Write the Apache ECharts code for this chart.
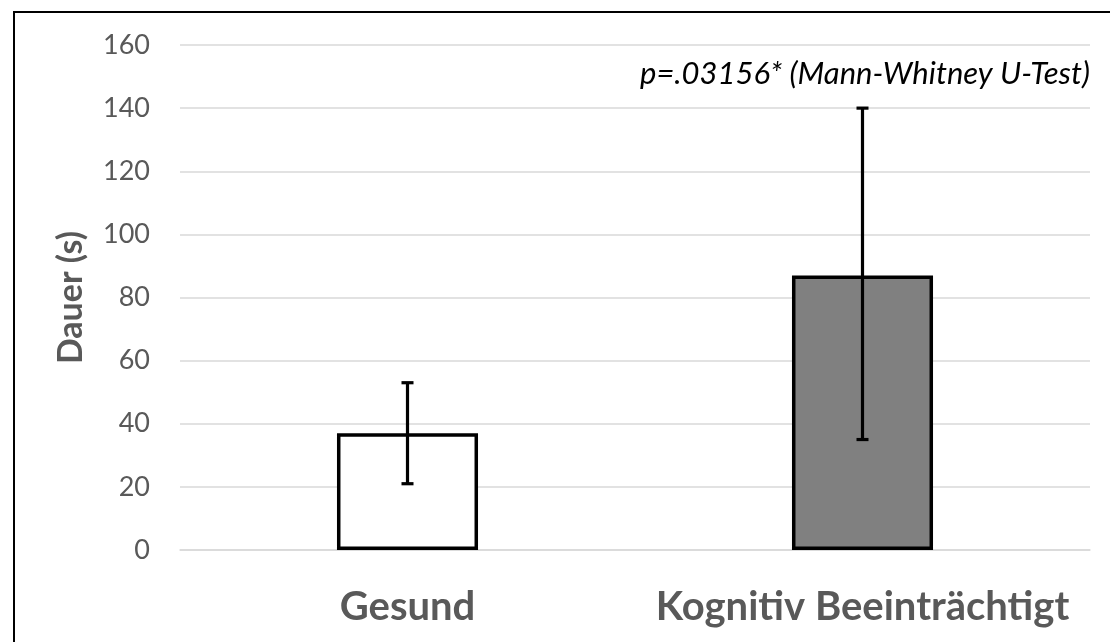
<!DOCTYPE html>
<html>
<head>
<meta charset="utf-8">
<script src="https://cdn.jsdelivr.net/npm/echarts@6/dist/echarts.min.js"></script>
<style>
html,body{margin:0;padding:0;background:#fff;}
#chart{width:1110px;height:642px;}
</style>
</head>
<body>
<div id="chart"></div>
<script>
const categories = ['Gesund', 'Kognitiv Beeinträchtigt'];
const means = [37, 87];
const errLow = [21, 35];
const errHigh = [53, 140];
const barColors = ['#ffffff', '#808080'];
const yTicks = { min: 0, max: 160, interval: 20 };
const annotation = 'p=.03156* (Mann-Whitney U-Test)';
const yName = 'Dauer (s)';

const FONT = 'Lato, "Open Sans", sans-serif';
const chart = echarts.init(document.getElementById('chart'));

const errData = categories.map((c, i) => [i, errLow[i], errHigh[i]]);

chart.setOption({
  animation: false,
  backgroundColor: '#fff',
  grid: { left: 180, right: 20, top: 45, bottom: 92 },
  graphic: [
    { type: 'rect', shape: { x: 14, y: 12, width: 1200, height: 700 }, style: { fill: 'none', stroke: '#000', lineWidth: 2 }, silent: true },
    { type: 'text', right: 20, top: 58, style: { text: annotation, font: 'italic 31px ' + FONT, fill: '#000' } }
  ],
  xAxis: {
    type: 'category',
    data: categories,
    axisLine: { show: true, lineStyle: { color: '#d9d9d9', width: 1.5 } },
    axisTick: { show: false },
    axisLabel: { interval: 0, color: '#595959', fontSize: 40, fontWeight: 'bold', fontFamily: FONT, margin: 37 }
  },
  yAxis: {
    type: 'value',
    min: yTicks.min, max: yTicks.max, interval: yTicks.interval,
    name: yName,
    nameLocation: 'middle',
    nameGap: 92,
    nameTextStyle: { color: '#595959', fontSize: 34, fontWeight: 'bold', fontFamily: FONT },
    axisLine: { show: false },
    axisTick: { show: false },
    axisLabel: { color: '#595959', fontSize: 27, fontFamily: FONT, margin: 30 },
    splitLine: { lineStyle: { color: '#d9d9d9', width: 1.5 } }
  },
  series: [
    {
      type: 'bar',
      barWidth: '31%',
      data: means.map((v, i) => ({ value: v, itemStyle: { color: barColors[i] } })),
      itemStyle: { borderColor: '#000', borderWidth: 3.5 }
    },
    {
      type: 'custom',
      data: errData,
      z: 10,
      renderItem: function (params, api) {
        const x = api.value(0);
        const lo = api.coord([x, api.value(1)]);
        const hi = api.coord([x, api.value(2)]);
        const cap = 6;
        const st = { stroke: '#000', lineWidth: 3.2 };
        return {
          type: 'group',
          children: [
            { type: 'line', shape: { x1: hi[0], y1: hi[1], x2: lo[0], y2: lo[1] }, style: st },
            { type: 'line', shape: { x1: hi[0] - cap, y1: hi[1], x2: hi[0] + cap, y2: hi[1] }, style: st },
            { type: 'line', shape: { x1: lo[0] - cap, y1: lo[1], x2: lo[0] + cap, y2: lo[1] }, style: st }
          ]
        };
      }
    }
  ]
});
</script>
</body>
</html>
